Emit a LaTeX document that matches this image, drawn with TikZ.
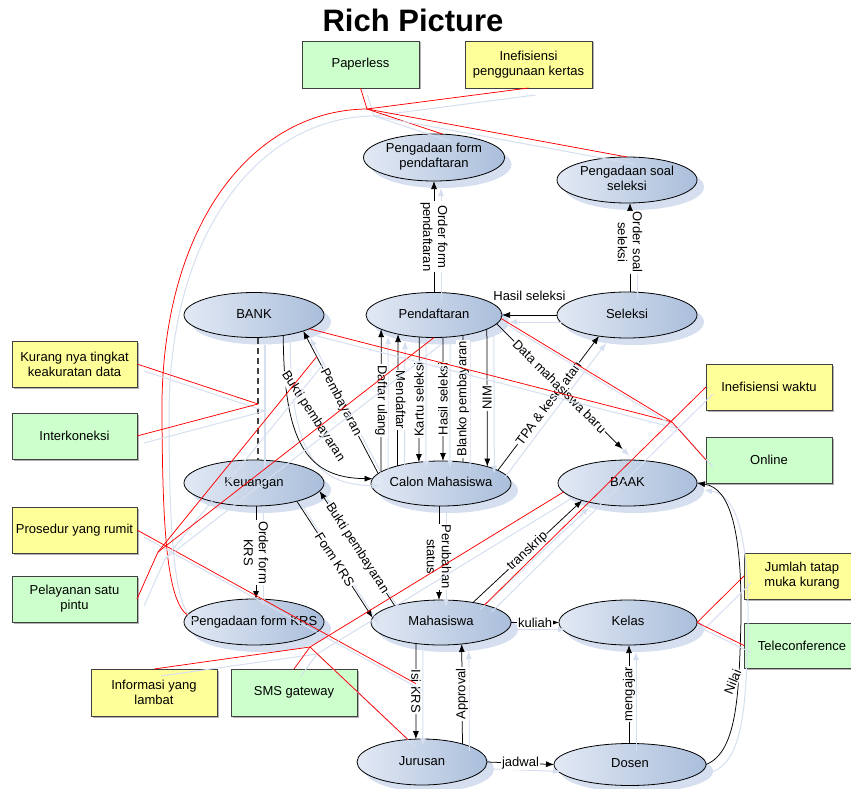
\documentclass[tikz,border=0pt]{standalone}
\usepackage{fontspec}
\setmainfont{Liberation Sans}
\usetikzlibrary{shapes.geometric,arrows.meta,shadows}
\definecolor{ellA}{HTML}{E2E9F4}
\definecolor{ellB}{HTML}{AABEDB}
\definecolor{shb}{HTML}{D5DFF0}
\definecolor{boxG}{HTML}{CCFFCC}
\definecolor{boxY}{HTML}{FFFF99}
\definecolor{redl}{HTML}{FF0000}
\newcommand{\ET}[1]{\makebox[0pt][c]{\begin{tabular}{@{}c@{}}#1\end{tabular}}}
\begin{document}
\begin{tikzpicture}[x=1pt,y=-1pt,
  every node/.style={font=\fontsize{13}{15}\selectfont, text=black},
  ell/.style={ellipse, draw=black, line width=0.8pt, left color=ellA, right color=ellB,
    minimum width=140pt, minimum height=46pt, inner sep=0pt, outer sep=0pt,
    general shadow={fill=shb, shadow xshift=7pt, shadow yshift=-7pt}},
  boxbase/.style={rectangle, draw=black!75, line width=0.7pt, inner sep=0pt, outer sep=0pt,
    minimum width=125pt, minimum height=46pt, align=center,
    general shadow={fill=black!30, shadow xshift=1.5pt, shadow yshift=-1.5pt}},
  gbox/.style={boxbase, fill=boxG},
  ybox/.style={boxbase, fill=boxY},
  conn/.style={draw=black, line width=0.75pt,
    preaction={draw=shb, line width=1pt, transform canvas={shift={(7pt,-7pt)}}}},
  arr/.style={-{Latex[length=8pt,width=6pt]}},
  dashl/.style={draw=black!75, line width=1.2pt, dash pattern=on 6pt off 4pt,
    preaction={draw=shb, line width=1.2pt, transform canvas={shift={(7pt,-7pt)}}}},
  rl/.style={draw=redl, line width=0.75pt,
    preaction={draw=shb, line width=1pt, transform canvas={shift={(7pt,-7pt)}}}},
  lab/.style={fill=white, inner sep=1pt, align=center}
]
\useasboundingbox (0,0) rectangle (851,789);

% title
\node[anchor=base, font=\fontsize{31}{36}\selectfont\bfseries] (title) at (413,32) {Rich Picture};

% boxes
\node[gbox, minimum width=117pt, minimum height=47pt] (PAP) at (360.5,64.5) {Paperless};
\node[ybox, minimum width=127pt, minimum height=47pt] (INK) at (528.5,64.5) {Inefisiensi\\penggunaan kertas};
\node[ybox] (KUR) at (74.5,364) {Kurang nya tingkat\\keakuratan data};
\node[gbox] (INT) at (74.5,436) {Interkoneksi};
\node[ybox] (PROS) at (74.5,530) {Prosedur yang rumit};
\node[gbox] (PEL) at (74.5,599) {Pelayanan satu\\pintu};
\node[ybox, minimum width=126pt] (IW) at (769,387) {Inefisiensi waktu};
\node[gbox, minimum width=126pt] (ONL) at (769,460) {Online};
\node[ybox, minimum width=116pt] (JML) at (802,576) {Jumlah tatap\\muka kurang};
\node[gbox, minimum width=116pt, minimum height=45pt] (TEL) at (802,645.5) {Teleconference};
\node[ybox, minimum width=126pt, minimum height=47pt] (INF) at (154,692.5) {Informasi yang\\lambat};
\node[gbox, minimum width=126pt, minimum height=47pt] (SMS) at (294,692.5) {SMS gateway};

% ellipses
\node[ell, minimum width=141pt, minimum height=47pt] (PFP) at (434,157.5) {\ET{Pengadaan form\\pendaftaran}};
\node[ell] (PSS) at (627,180) {\ET{Pengadaan soal\\seleksi}};
\node[ell, minimum height=45pt] (BANK) at (254,315) {\ET{BANK}};
\node[ell, minimum width=136pt, minimum height=45pt] (Pend) at (434,315) {\ET{Pendaftaran}};
\node[ell] (Sel) at (627,315) {\ET{Seleksi}};
\node[ell] (Keu) at (254,483) {\ET{Keuangan}};
\node[ell, minimum height=45pt] (Calon) at (441,483.5) {\ET{Calon Mahasiswa}};
\node[ell, minimum width=139pt] (BAAK) at (627.5,483) {\ET{BAAK}};
\node[ell] (PKRS) at (254,622) {\ET{Pengadaan form KRS}};
\node[ell, minimum height=45pt] (Maha) at (441,622.5) {\ET{Mahasiswa}};
\node[ell, minimum width=138pt, minimum height=45pt] (Kelas) at (628,622.5) {\ET{Kelas}};
\node[ell, minimum width=130pt] (Jur) at (422,762) {\ET{Jurusan}};
\node[ell, minimum width=152pt, minimum height=42pt] (Dosen) at (630,764.5) {\ET{Dosen}};

% black connectors
\draw[conn,arr] (Pend.north) -- node[lab,rotate=-90]{Order form\\pendaftaran} (PFP.south);
\draw[conn,arr] ([xshift=3pt]Sel.north) -- node[lab,pos=0.56,rotate=-90]{Order soal\\seleksi} ([xshift=3pt]PSS.south);
\draw[conn,arr] (Sel.west) -- node[lab,above=13pt]{Hasil seleksi} (Pend.east);
\draw[dashl] ([xshift=4pt]BANK.south) -- ([xshift=4pt]Keu.north);
\coordinate (J2) at (258,404);
\draw[conn,arr] (BANK.325) .. controls (284,440) and (305,478) .. node[lab,pos=0.3,xshift=23pt,yshift=-4pt,rotate=-57]{Bukti pembayaran} (Calon.176);
\draw[conn,arr] (Calon.171) -- node[lab,rotate=-62]{Pembayaran} coordinate[pos=0.82] (pemb) (BANK.342);
\draw[conn,arr] (Calon.169) -- node[lab,rotate=-90]{Daftar ulang} (Pend.195);
\draw[conn,arr] (Calon.158) -- node[lab,xshift=3pt,rotate=-90]{Mendaftar} (Pend.208);
\draw[conn,arr] (Pend.236) -- node[lab,rotate=90]{Kartu seleksi} (Calon.136);
\draw[conn,arr] (Pend.292) -- node[lab,rotate=90]{Hasil seleksi} (Calon.85);
\draw[conn] (Pend.325) -- node[lab,rotate=90]{Blanko pembayaran} (Calon.44);
\draw[conn,arr] (Pend.345) -- node[lab,rotate=90]{NIM} (Calon.20);
\draw[conn,arr] (Calon.13) -- node[lab,rotate=53]{TPA \& kesehatan} (Sel.217);
\draw[conn,arr] (Pend.352) -- node[lab,rotate=-45]{Data mahasiswa baru} ([xshift=-5pt,yshift=11pt]BAAK.north);
\draw[conn,arr] (Maha.160) -- node[lab,rotate=-57]{Bukti pembayaran} (Keu.353);
\draw[conn,arr] (Keu.337) -- node[lab,rotate=-57]{Form KRS} (Maha.176);
\draw[conn,arr] ([xshift=2pt]Keu.south) -- node[lab,rotate=-90]{Order form\\KRS} ([xshift=2pt]PKRS.north);
\draw[conn,arr] ([xshift=-2pt]Calon.south) -- node[lab,pos=0.54,rotate=-90]{Perubahan\\status} ([xshift=-2pt]Maha.north);
\draw[conn,arr] (Maha.32) -- node[lab,rotate=43]{transkrip} (BAAK.201);
\draw[conn,arr] (Maha.east) -- node[lab]{kuliah} (Kelas.west);
\draw[conn,arr] (Maha.220) -- node[lab,rotate=-90]{Isi KRS} coordinate[pos=0.42] (isi) (Jur.105);
\draw[conn,arr] (Jur.24) -- node[lab,rotate=90]{Approval} (Maha.314);
\draw[conn,arr] (Jur.east) -- node[lab]{jadwal} (Dosen.west);
\draw[conn,arr] ([xshift=-1pt]Dosen.north) -- node[lab,rotate=90]{mengajar} ([xshift=1pt]Kelas.south);
\draw[conn,arr] (Dosen.east) .. controls (738,752) and (739,690) .. node[lab,pos=0.7,xshift=-6pt,yshift=-2pt,rotate=68]{Nilai} (741,620) .. controls (742,530) and (730,488) .. (BAAK.east);

% red lines
\coordinate (J1) at (367,109);
\coordinate (J3) at (158,552);
\coordinate (J4) at (672,422);
\coordinate (J5) at (310,647);
\draw[rl] (PAP.south) -- (J1);
\draw[rl] (INK.south) -- (J1);
\draw[rl] (J1) -- (PFP.69);
\draw[rl] (J1) -- (PSS.north);
\draw[rl] (J1) .. controls (255,110) and (165,220) .. (162,400) .. controls (162,530) and (167,600) .. (PKRS.174);
\draw[rl] (KUR.east) -- (J2);
\draw[rl] (INT.east) -- (J2);
\draw[rl] (PROS.east) -- (isi);
\draw[rl] (PEL.east) -- (J3);
\draw[rl] (J3) -- (pemb);
\draw[rl] (J3) -- (Pend.south);
\draw[rl] (BANK.346) -- (J4);
\draw[rl] (Pend.357) -- (J4);
\draw[rl] (J4) -- (ONL.west);
\draw[rl] (IW.west) -- (Maha.22);
\draw[rl] (INF.north) -- (J5);
\draw[rl] (SMS.north) -- (J5);
\draw[rl] (J5) -- (BAAK.188);
\draw[rl] (J5) -- (Jur.122);
\draw[rl] (JML.west) -- (Kelas.east);
\draw[rl] (TEL.west) -- (Kelas.east);
\end{tikzpicture}
\end{document}
